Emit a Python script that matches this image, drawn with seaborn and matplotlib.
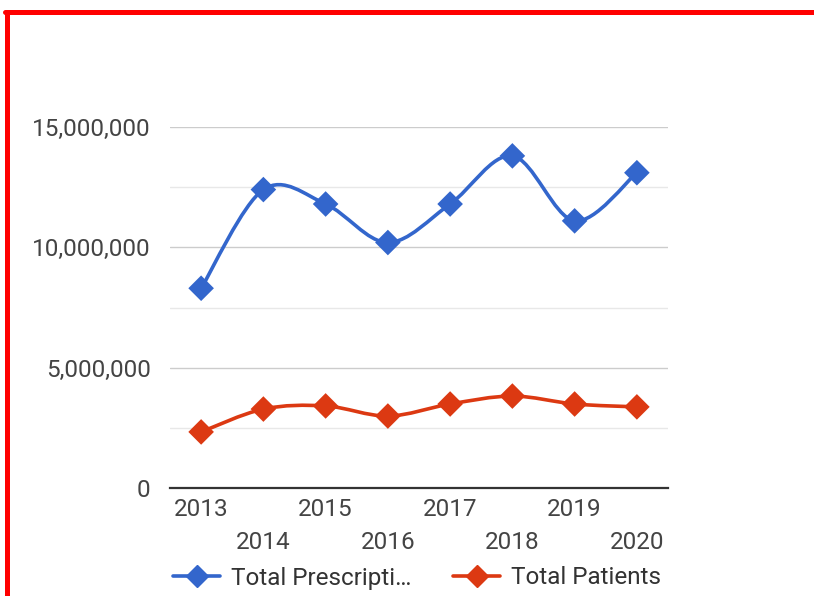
import numpy as np
import pandas as pd
import matplotlib
matplotlib.use("Agg")
import matplotlib.pyplot as plt
from matplotlib.path import Path
from matplotlib.patches import PathPatch
from matplotlib.lines import Line2D
import seaborn as sns

# data
years = [2013, 2014, 2015, 2016, 2017, 2018, 2019, 2020]
prescriptions = [8300000, 12400000, 11800000, 10200000, 11800000, 13800000, 11100000, 13100000]
patients = [2330000, 3280000, 3410000, 2990000, 3490000, 3820000, 3490000, 3370000]
series_names = ["Total Prescripti\u2026", "Total Patients"]

BLUE = "#3366CC"
ORANGE = "#DC3912"

sns.set_style("white")
plt.rcParams["font.family"] = ["Roboto", "DejaVu Sans"]

df = pd.DataFrame({"year": years * 2,
                   "value": prescriptions + patients,
                   "series": [series_names[0]] * 8 + [series_names[1]] * 8})


def smooth_path(x, y):
    # catmull-rom style cubic bezier through the data points
    x = np.asarray(x, float)
    y = np.asarray(y, float)
    px = np.concatenate([[x[0]], x, [x[-1]]])
    py = np.concatenate([[y[0]], y, [y[-1]]])
    verts = [(x[0], y[0])]
    codes = [Path.MOVETO]
    for i in range(1, len(px) - 2):
        c1 = (px[i] + (px[i + 1] - px[i - 1]) / 6, py[i] + (py[i + 1] - py[i - 1]) / 6)
        c2 = (px[i + 1] - (px[i + 2] - px[i]) / 6, py[i + 1] - (py[i + 2] - py[i]) / 6)
        verts += [c1, c2, (px[i + 1], py[i + 1])]
        codes += [Path.CURVE4] * 3
    return Path(verts, codes)


fig = plt.figure(figsize=(8.14, 5.96), dpi=100)
ax = fig.add_axes([170 / 814, 1 - 488 / 596, 498 / 814, 361 / 596])

for vals, col in [(prescriptions, BLUE), (patients, ORANGE)]:
    ax.add_patch(PathPatch(smooth_path(years, vals), facecolor="none",
                           edgecolor=col, lw=2.6, zorder=3))

sns.scatterplot(data=df, x="year", y="value", hue="series",
                palette=[BLUE, ORANGE], marker="D", s=170, linewidth=0,
                legend=False, ax=ax, zorder=4)

ax.set_xlim(2012.5, 2020.5)
ax.set_ylim(0, 15000000)
ax.set_yticks([0, 5000000, 10000000, 15000000])
ax.set_yticklabels(["0", "5,000,000", "10,000,000", "15,000,000"])
ax.set_yticks([2500000, 7500000, 12500000], minor=True)
ax.grid(axis="y", which="major", color="#cccccc", lw=1.0)
ax.grid(axis="y", which="minor", color="#e8e8e8", lw=1.0)
ax.set_axisbelow(True)

ax.set_xticks(years)
ax.set_xticklabels([str(y) for y in years])
for i, t in enumerate(ax.xaxis.get_major_ticks()):
    t.set_pad(7 if i % 2 == 0 else 31)

ax.tick_params(axis="both", length=0, labelsize=17.5, labelcolor="#444444")
ax.tick_params(axis="y", pad=14)
ax.set_xlabel("")
ax.set_ylabel("")

for s in ["top", "right", "left"]:
    ax.spines[s].set_visible(False)
ax.spines["bottom"].set_color("#333333")
ax.spines["bottom"].set_linewidth(1.6)
ax.spines["bottom"].set_zorder(5)

handles = [Line2D([], [], color=BLUE, lw=2.6, marker="D", markersize=11),
           Line2D([], [], color=ORANGE, lw=2.6, marker="D", markersize=11)]
fig.legend(handles, series_names, loc="center left",
           bbox_to_anchor=(173 / 814, 1 - 578 / 596), ncol=2, frameon=False,
           fontsize=17.5, labelcolor="#333333", handlelength=1.95,
           handletextpad=0.45, columnspacing=1.7, borderaxespad=0,
           borderpad=0)

# red frame on top and left edges
fig.add_artist(Line2D([5 / 814, 1], [1 - 11.5 / 596, 1 - 11.5 / 596],
                      transform=fig.transFigure, color="red", lw=3.6))
fig.add_artist(Line2D([7 / 814, 7 / 814], [0, 1 - 11.5 / 596],
                      transform=fig.transFigure, color="red", lw=3.6))

fig.savefig("out.png", dpi=100)
